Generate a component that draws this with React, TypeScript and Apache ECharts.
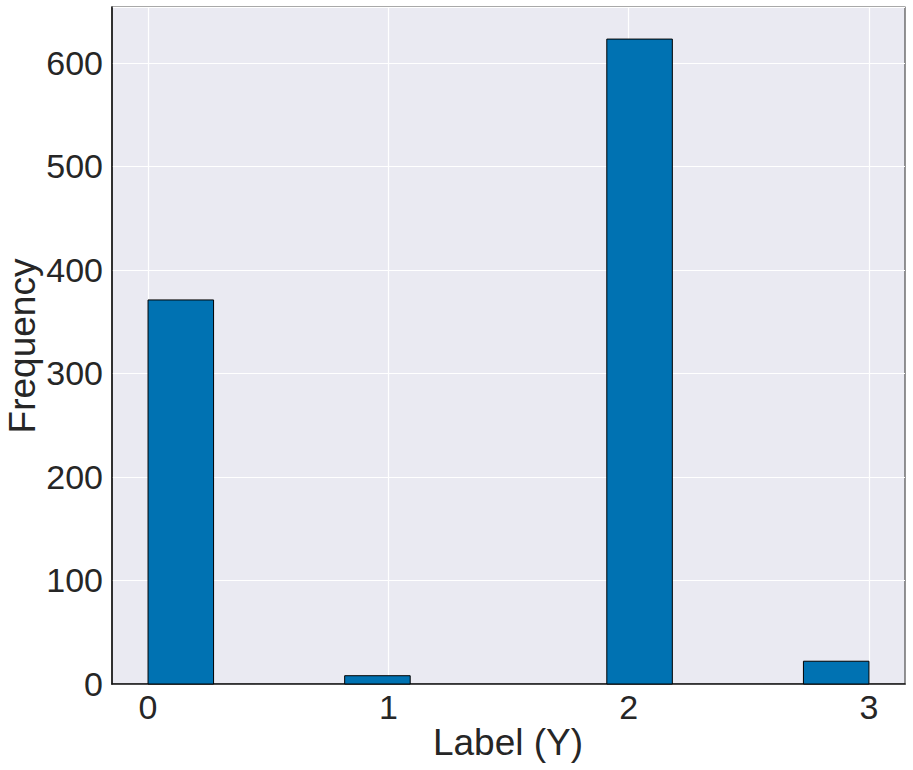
import React, { useEffect, useRef } from "react";
import * as echarts from "echarts";

const binEdges = [0, 0.2727, 0.5455, 0.8182, 1.0909, 1.3636, 1.6364, 1.9091, 2.1818, 2.4545, 2.7273, 3.0];
const counts = [371, 0, 0, 8, 0, 0, 0, 623, 0, 0, 22];
const xTicks = [0, 1, 2, 3];
const yTicks = [0, 100, 200, 300, 400, 500, 600];
const xLabel = "Label (Y)";
const yLabel = "Frequency";

const FONT = "'Liberation Sans', Arial, sans-serif";
const TXT = "#262626";

export default function App() {
  const ref = useRef<HTMLDivElement>(null);
  useEffect(() => {
    if (!ref.current) return;
    const chart = echarts.init(ref.current, undefined, { renderer: "svg" });
    const data = counts.map((c, i) => [binEdges[i], binEdges[i + 1], c]);
    chart.setOption({
      animation: false,
      grid: {
        left: 112,
        right: 8,
        top: 7,
        bottom: 86,
        show: true,
        backgroundColor: "#EAEAF2",
        borderColor: "#555555",
        borderWidth: 1.25,
      },
      xAxis: {
        type: "value",
        min: -0.15,
        max: 3.15,
        axisLine: { show: true, onZero: false, lineStyle: { color: "#111", width: 1.5 } },
        axisTick: { show: false, customValues: xTicks },
        splitLine: { show: true, customValues: xTicks, lineStyle: { color: "#ffffff", width: 1.2 } },
        axisLabel: {
          customValues: xTicks,
          fontSize: 34,
          color: TXT,
          fontFamily: FONT,
          margin: 6,
        },
      },
      yAxis: {
        type: "value",
        min: 0,
        max: 654,
        interval: 100,
        axisLine: { show: true, onZero: false, lineStyle: { color: "#111", width: 1.5 } },
        axisTick: { show: false },
        splitLine: { show: true, lineStyle: { color: "#ffffff", width: 1.2 } },
        axisLabel: {
          customValues: yTicks,
          fontSize: 34,
          color: TXT,
          fontFamily: FONT,
          margin: 9,
        },
      },
      graphic: [
        {
          type: "text",
          x: 22,
          y: 346,
          rotation: Math.PI / 2,
          style: {
            text: yLabel,
            fontSize: 37,
            fontFamily: FONT,
            fill: TXT,
            align: "center",
            verticalAlign: "middle",
          },
        },
        {
          type: "text",
          x: 508,
          y: 742,
          style: {
            text: xLabel,
            fontSize: 37,
            fontFamily: FONT,
            fill: TXT,
            align: "center",
            verticalAlign: "middle",
          },
        },
      ],
      series: [
        {
          type: "custom",
          data,
          encode: { x: [0, 1], y: 2 },
          renderItem: (params: any, api: any) => {
            const h = api.value(2);
            if (!h) return null;
            const p0 = api.coord([api.value(0), h]);
            const p1 = api.coord([api.value(1), 0]);
            return {
              type: "rect",
              shape: { x: p0[0], y: p0[1], width: p1[0] - p0[0], height: p1[1] - p0[1] },
              style: { fill: "#0072B2", stroke: "#000000", lineWidth: 1 },
            };
          },
        },
      ],
    });
    return () => chart.dispose();
  }, []);
  return (
    <div
      ref={ref}
      style={{ position: "fixed", left: 0, top: 0, width: 913, height: 770, background: "#fff" }}
    />
  );
}
